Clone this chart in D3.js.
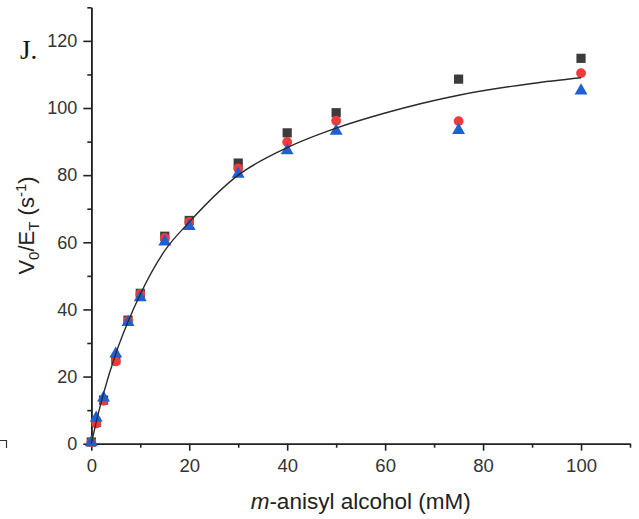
<!DOCTYPE html>
<meta charset="utf-8">
<style>
body { margin: 0; background: #fff; }
.axis path, .axis line { stroke: #222; stroke-width: 1.6px; }
.axis text { fill: #333; font-family: Arial, "Liberation Sans", sans-serif; }
.title { fill: #222; font-family: Arial, "Liberation Sans", sans-serif; }
</style>
<body>
<svg width="639" height="519"></svg>
<script src="https://d3js.org/d3.v7.min.js"></script>
<script>

// substrate concentrations (mM)
var conc = [0, 1, 2.5, 5, 7.5, 10, 15, 20, 30, 40, 50, 75, 100];
// V0/ET (s-1) for each replicate
var rep1 = [0.5, 6.3, 13.0, 25.0, 36.8, 44.8, 61.8, 66.5, 83.6, 92.6, 98.6, 108.6, 114.8];
var rep2 = [0.4, 6.0, 12.8, 24.5, 36.6, 44.6, 61.3, 66.1, 82.0, 89.9, 96.2, 96.1, 110.4];
var rep3 = [0.6, 7.9, 13.9, 27.0, 36.4, 43.8, 60.4, 65.0, 80.6, 87.6, 93.4, 93.6, 105.4];
// fitted curve
var fitX = [0, 1, 2.5, 5, 7.5, 10, 15, 20, 30, 40, 50, 60, 75, 90, 100];
var fitY = [0, 6.4, 15.0, 26.8, 36.3, 44.5, 57.5, 66.0, 80.0, 88.2, 94.0, 98.5, 103.8, 107.3, 109.0];

var xMajor = [0, 20, 40, 60, 80, 100],
    xMinor = [10, 30, 50, 70, 90, 110],
    yMajor = [0, 20, 40, 60, 80, 100, 120],
    yMinor = [10, 30, 50, 70, 90, 110, 130];

var svg = d3.select("svg"),
    margin = {top: 7.3, right: 9, bottom: 75.3, left: 91.3},
    width = +svg.attr("width") - margin.left - margin.right,
    height = +svg.attr("height") - margin.top - margin.bottom;

var x = d3.scaleLinear().domain([0, 110]).range([0, width]),
    y = d3.scaleLinear().domain([0, 130]).range([height, 0]);

var g = svg.append("g")
    .attr("transform", "translate(" + margin.left + "," + margin.top + ")");

// axes: minor ticks first, then major with labels
g.append("g")
    .attr("class", "axis")
    .attr("transform", "translate(0," + height + ")")
    .call(d3.axisBottom(x).tickValues(xMinor).tickFormat("").tickSize(4).tickSizeOuter(0));
g.append("g")
    .attr("class", "axis")
    .attr("transform", "translate(0," + height + ")")
    .call(d3.axisBottom(x).tickValues(xMajor).tickSize(7).tickPadding(8).tickSizeOuter(0))
    .selectAll("text").style("font-size", "18.5px");

g.append("g")
    .attr("class", "axis")
    .call(d3.axisLeft(y).tickValues(yMinor).tickFormat("").tickSize(4).tickSizeOuter(0));
g.append("g")
    .attr("class", "axis")
    .call(d3.axisLeft(y).tickValues(yMajor).tickSize(8).tickPadding(6).tickSizeOuter(0))
    .selectAll("text").style("font-size", "18px");

// markers
var pts = function(vals) { return conc.map(function(c, i) { return {c: c, v: vals[i]}; }); };

g.selectAll(".sq")
    .data(pts(rep1))
    .enter().append("rect")
      .attr("class", "sq")
      .attr("x", function(d) { return x(d.c) - 4.6; })
      .attr("y", function(d) { return y(d.v) - 4.6; })
      .attr("width", 9.2)
      .attr("height", 9.2)
      .attr("fill", "#3c3c3c");

g.selectAll(".ci")
    .data(pts(rep2))
    .enter().append("circle")
      .attr("class", "ci")
      .attr("cx", function(d) { return x(d.c); })
      .attr("cy", function(d) { return y(d.v); })
      .attr("r", 4.9)
      .attr("fill", "#f03a3c");

var tri = d3.symbol().type(d3.symbolTriangle).size(72);
g.selectAll(".tr")
    .data(pts(rep3))
    .enter().append("path")
      .attr("class", "tr")
      .attr("d", tri)
      .attr("transform", function(d) { return "translate(" + x(d.c) + "," + (y(d.v) + 0.8) + ")"; })
      .attr("fill", "#1f5fd6");

// fitted line
var line = d3.line()
    .x(function(d, i) { return x(fitX[i]); })
    .y(function(d) { return y(d); })
    .curve(d3.curveMonotoneX);

g.append("path")
    .datum(fitY)
    .attr("d", line)
    .attr("fill", "none")
    .attr("stroke", "#2a2a2a")
    .attr("stroke-width", 1.4);

// titles
svg.append("text")
    .attr("class", "title")
    .attr("x", margin.left + width / 2)
    .attr("y", 509)
    .attr("text-anchor", "middle")
    .style("font-size", "22.5px")
    .html('<tspan font-style="italic">m</tspan>-anisyl alcohol (mM)');

svg.append("text")
    .attr("class", "title")
    .attr("transform", "translate(34," + (margin.top + height / 2) + ") rotate(-90)")
    .attr("text-anchor", "middle")
    .style("font-size", "22px")
    .html('V<tspan font-size="15px" dy="5">0</tspan><tspan dy="-5">/E</tspan>' +
          '<tspan font-size="15px" dy="5">T</tspan><tspan dy="-5"> (s</tspan>' +
          '<tspan font-size="15px" dy="-8">-1</tspan><tspan dy="8">)</tspan>');

// panel letter
svg.append("text")
    .attr("x", 20)
    .attr("y", 59)
    .style("font-family", "'Liberation Serif', 'Times New Roman', serif")
    .style("font-size", "27px")
    .attr("fill", "#111")
    .text("J.");

// stray mark from neighbouring panel at left edge
svg.append("path")
    .attr("d", "M0,440.5H6.5V448")
    .attr("fill", "none")
    .attr("stroke", "#333")
    .attr("stroke-width", 1.2);

</script>
</body>
